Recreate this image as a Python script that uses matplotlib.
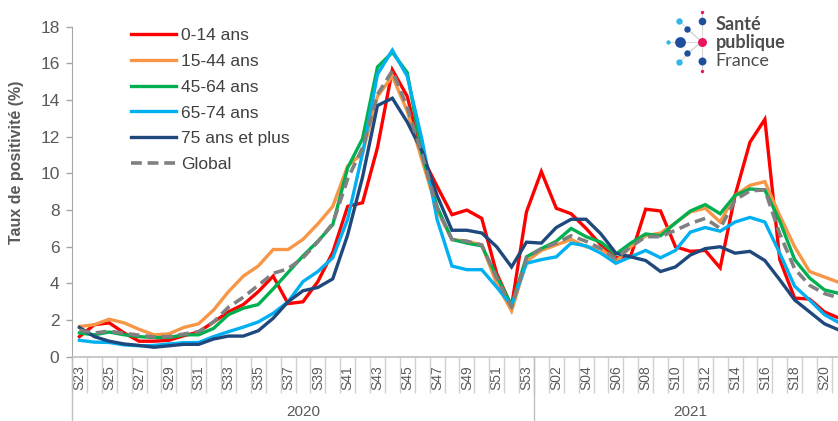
import matplotlib
matplotlib.use("Agg")
import matplotlib.pyplot as plt
from matplotlib.lines import Line2D
import matplotlib.transforms as mtransforms

plt.rcParams['font.family'] = ['Liberation Sans', 'DejaVu Sans']

weeks_2020 = [f"S{w}" for w in range(23, 54)]
weeks_2021 = [f"S{w:02d}" for w in range(1, 22)]
weeks = weeks_2020 + weeks_2021
years = ["2020", "2021"]

age_0_14 = [1.1, 1.75, 1.85, 1.3, 0.85, 0.85, 0.9, 1.15, 1.35, 1.9, 2.45, 2.85, 3.55, 4.4, 2.9, 3.0,
            4.1, 5.7, 8.2, 8.4, 11.4, 15.65, 14.2, 10.9, 9.3, 7.75, 8.0, 7.55, 4.55, 2.75, 7.9,
            10.1, 8.1, 7.8, 7.0, 6.1, 5.4, 5.5, 8.05, 7.95, 6.0, 5.75, 5.8, 4.85, 8.8, 11.7, 12.95,
            5.3, 3.2, 3.15, 2.45, 2.1]
age_15_44 = [1.65, 1.75, 2.05, 1.85, 1.5, 1.2, 1.25, 1.6, 1.8, 2.55, 3.55, 4.4, 4.95, 5.85, 5.85, 6.4,
             7.25, 8.2, 10.4, 11.1, 14.2, 15.3, 13.4, 10.7, 8.0, 6.4, 6.3, 6.1, 4.0, 2.5, 5.2,
             5.8, 6.1, 6.4, 6.0, 5.9, 5.2, 6.0, 6.6, 6.75, 7.3, 7.9, 8.1, 7.35, 8.8, 9.35, 9.55,
             7.7, 6.0, 4.65, 4.35, 4.05]
age_45_64 = [1.3, 1.2, 1.35, 1.2, 1.1, 1.05, 1.05, 1.2, 1.2, 1.55, 2.3, 2.65, 2.85, 3.7, 4.6, 5.5,
             6.3, 7.2, 10.3, 11.9, 15.8, 16.6, 15.5, 11.0, 8.2, 6.4, 6.2, 6.05, 4.4, 2.8, 5.45,
             5.9, 6.3, 7.0, 6.55, 6.25, 5.6, 6.2, 6.7, 6.6, 7.3, 7.95, 8.3, 7.8, 8.8, 9.15, 9.1,
             7.4, 5.3, 4.3, 3.65, 3.45]
age_65_74 = [0.9, 0.8, 0.78, 0.65, 0.6, 0.62, 0.7, 0.77, 0.78, 1.1, 1.37, 1.62, 1.9, 2.37, 3.0, 4.1,
             4.65, 5.4, 7.5, 11.1, 15.4, 16.72, 15.3, 11.8, 7.5, 4.95, 4.75, 4.75, 3.8, 2.8, 5.1,
             5.3, 5.45, 6.2, 6.05, 5.65, 5.1, 5.45, 5.8, 5.4, 5.8, 6.8, 7.05, 6.85, 7.35, 7.6, 7.35,
             5.65, 3.85, 3.1, 2.3, 1.85]
age_75_plus = [1.6, 1.1, 0.85, 0.7, 0.62, 0.52, 0.6, 0.68, 0.68, 0.97, 1.13, 1.13, 1.42, 2.1, 3.0, 3.6,
               3.78, 4.25, 6.65, 9.8, 13.7, 14.1, 12.8, 11.2, 8.8, 6.9, 6.9, 6.75, 6.0, 4.9, 6.25,
               6.2, 7.05, 7.5, 7.5, 6.7, 5.65, 5.45, 5.25, 4.65, 4.9, 5.55, 5.9, 6.0, 5.65, 5.75, 5.25,
               4.2, 3.1, 2.45, 1.8, 1.45]
global_rate = [1.45, 1.3, 1.4, 1.28, 1.18, 1.08, 1.1, 1.24, 1.37, 1.9, 2.7, 3.25, 3.9, 4.55, 4.8, 5.4,
               6.27, 7.27, 9.7, 11.4, 14.3, 15.6, 13.6, 11.0, 8.1, 6.4, 6.3, 6.1, 4.3, 2.7, 5.4,
               5.9, 6.2, 6.6, 6.3, 5.9, 5.35, 6.0, 6.55, 6.55, 6.9, 7.27, 7.55, 7.0, 8.55, 9.05, 9.1,
               6.7, 4.8, 3.9, 3.45, 3.2]

series = [
    ("0-14 ans", age_0_14, "#FF0000", "-"),
    ("15-44 ans", age_15_44, "#F79646", "-"),
    ("45-64 ans", age_45_64, "#00B050", "-"),
    ("65-74 ans", age_65_74, "#00B0F0", "-"),
    ("75 ans et plus", age_75_plus, "#1F497D", "-"),
    ("Global", global_rate, "#808080", "--"),
]

W, H = 838, 421
fig = plt.figure(figsize=(W / 100, H / 100), dpi=100)
left = 72 / W
right = 846.8 / W
bottom = (H - 356.8) / H
top = (H - 26.7) / H
ax = fig.add_axes([left, bottom, right - left, top - bottom])

x = list(range(len(weeks)))
for name, vals, col, ls in series:
    if ls == "--":
        ax.plot(x, vals, color=col, lw=2.6, ls=(0, (3, 1.6)), label=name, solid_capstyle='butt')
    else:
        ax.plot(x, vals, color=col, lw=2.4, ls=ls, label=name, solid_joinstyle='miter')

ax.set_xlim(-0.5, len(weeks) - 0.5)
ax.set_ylim(0, 18)
ax.set_yticks(range(0, 19, 2))
ax.tick_params(axis='y', labelsize=12.5, labelcolor='#595959', color='#A6A6A6', length=4, width=1, pad=5)

major = list(range(0, len(weeks), 2))
ax.set_xticks(major)
ax.set_xticklabels([weeks[i] for i in major], rotation=90, fontsize=10, color='#595959')
ax.tick_params(axis='x', which='major', length=0, pad=6)
ax.set_xticks([i - 0.5 for i in range(len(weeks) + 1)], minor=True)
ax.tick_params(axis='x', which='minor', length=26, width=1, color='#D0D0D0', direction='out')

for sp in ['top', 'right']:
    ax.spines[sp].set_visible(False)
ax.spines['left'].set_color('#A6A6A6')
ax.spines['bottom'].set_color('#BFBFBF')
ax.spines['bottom'].set_linewidth(1.2)

trans = mtransforms.blended_transform_factory(ax.transData, ax.transAxes)
depth = -(H - 356.8) / (356.8 - 26.7)
n20 = len(weeks_2020)
for xb in [-0.5, n20 - 0.5, len(weeks) - 0.5]:
    ax.add_line(Line2D([xb, xb], [0, depth], transform=trans, color='#BFBFBF', lw=1, clip_on=False))
ax.text((n20 - 1) / 2, -0.168, years[0], transform=trans, ha='center', va='center', fontsize=11, color='#595959')
ax.text(n20 + (len(weeks_2021) - 1) / 2, -0.168, years[1], transform=trans, ha='center', va='center', fontsize=11, color='#595959')

fig.text(17 / W, (H - 162) / H, "Taux de positivité (%)", rotation=90, ha='center', va='center',
         fontsize=11.5, fontweight='bold', color='#595959')

leg = ax.legend(loc='upper left', bbox_to_anchor=((124 - 72) / (846.8 - 72), 1.0 + 6 / 330), frameon=False,
                fontsize=12.5, handlelength=2.6, handletextpad=0.3, labelspacing=0.62, borderaxespad=0)
for t in leg.get_texts():
    t.set_color('#404040')

# Logo overlay
lo = fig.add_axes([0, 0, 1, 1], zorder=5)
lo.set_xlim(0, W)
lo.set_ylim(H, 0)
lo.axis('off')
lo.patch.set_alpha(0)
cx, cy = 701.7, 41.7
dots = [(701.7, 11.7, 1.7, '#E6175C'), (701.7, 21, 3.8, '#1D4F9C'), (679.3, 20.7, 3.2, '#35B6E8'),
        (686.7, 29.3, 3.2, '#1D4F9C'), (668.3, 41.7, 2.2, '#35B6E8'), (680, 41.7, 5.4, '#1D4F9C'),
        (701.7, 41.7, 4.5, '#E6175C'), (686.7, 53.3, 3.2, '#1D4F9C'), (679.3, 62, 3.2, '#35B6E8'),
        (701.7, 61, 4.0, '#1D4F9C'), (701.7, 70.7, 1.7, '#E6175C')]
lo.plot([701.7, 701.7], [12, 70], color='#D0D0D0', lw=0.8, zorder=1)
for dx, dy, r, c in dots:
    if (dx, dy) != (cx, cy):
        lo.plot([cx, dx], [cy, dy], color='#D8D8D8', lw=0.7, zorder=1)
for dx, dy, r, c in dots:
    lo.scatter([dx], [dy], s=(2 * r * 0.72) ** 2, color=c, zorder=2, linewidths=0)
lo.text(715.5, 24.5, "Santé", fontsize=13, fontweight='bold', color='#4D4D4D', va='center', ha='left', family=['Lato', 'DejaVu Sans'])
lo.text(715.5, 42.5, "publique", fontsize=13, fontweight='bold', color='#4D4D4D', va='center', ha='left', family=['Lato', 'DejaVu Sans'])
lo.text(715.5, 61, "France", fontsize=13, color='#4D4D4D', va='center', ha='left', family=['Lato', 'DejaVu Sans'])

fig.savefig("out.png", dpi=100)
